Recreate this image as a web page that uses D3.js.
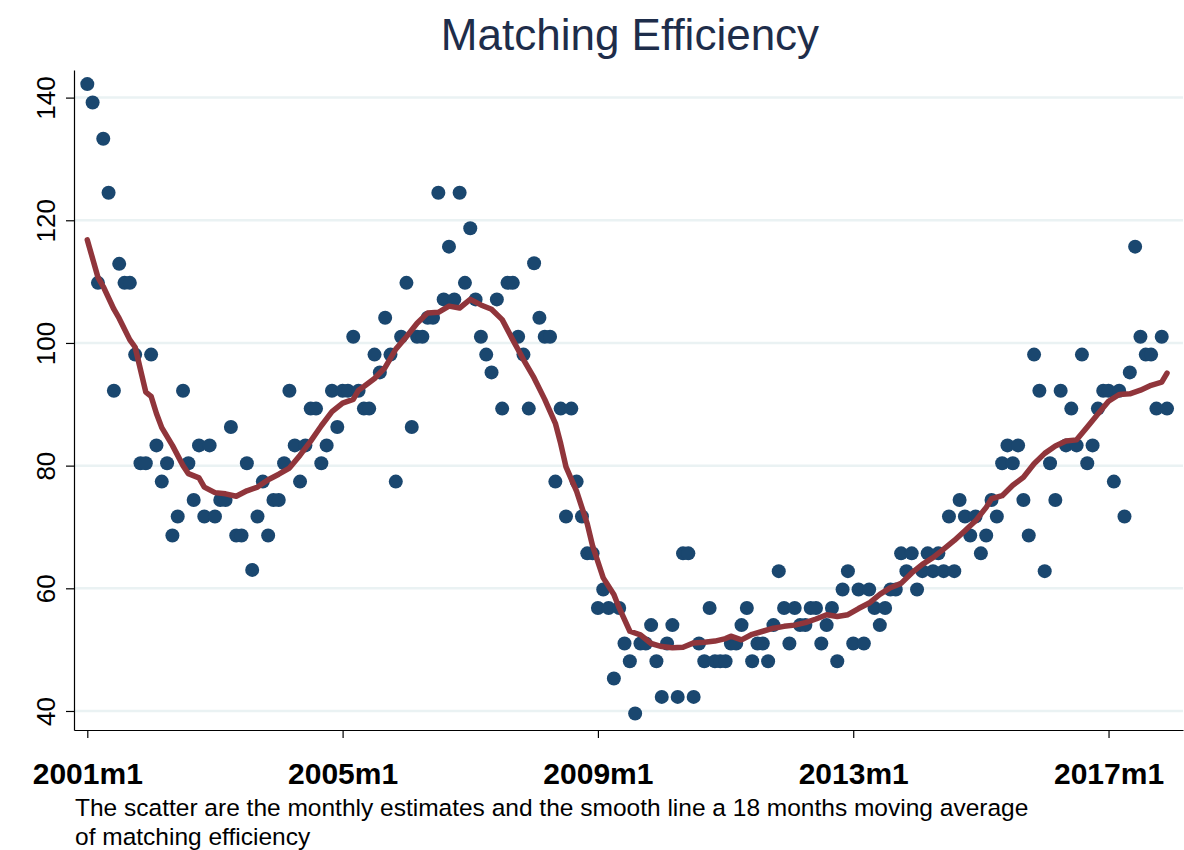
<!DOCTYPE html>
<html>
<head>
<meta charset="utf-8">
<script src="https://cdn.jsdelivr.net/npm/d3@7"></script>
<style>
  body { margin: 0; background: #ffffff; }
  svg { display: block; font-family: "Liberation Sans", Arial, sans-serif; }
</style>
</head>
<body>
<div id="container"></div>
<script>
// Monthly estimates, 2001m1 .. 2017m12 (one row per year)
const scatterValues = [
  142.2, 139.2, 109.8, 133.3, 124.5, 92.2, 112.9, 109.8, 109.8, 98.1, 80.4, 80.4,
  98.1, 83.3, 77.4, 80.4, 68.6, 71.7, 92.2, 80.4, 74.4, 83.3, 71.7, 83.3,
  71.7, 74.4, 74.4, 86.3, 68.6, 68.6, 80.4, 63.0, 71.7, 77.4, 68.6, 74.4,
  74.4, 80.4, 92.2, 83.3, 77.4, 83.3, 89.3, 89.3, 80.4, 83.3, 92.2, 86.3,
  92.2, 92.2, 101.0, 92.2, 89.3, 89.3, 98.1, 95.2, 104.1, 98.1, 77.4, 101.0,
  109.8, 86.3, 101.0, 101.0, 104.1, 104.1, 124.5, 107.1, 115.7, 107.1, 124.5, 109.8,
  118.7, 107.1, 101.0, 98.1, 95.2, 107.1, 89.3, 109.8, 109.8, 101.0, 98.1, 89.3,
  113.0, 104.1, 101.0, 101.0, 77.4, 89.3, 71.7, 89.3, 77.4, 71.7, 65.7, 65.7,
  56.8, 59.8, 56.8, 45.3, 56.8, 51.0, 48.1, 39.6, 51.0, 51.0, 54.0, 48.1,
  42.3, 51.0, 54.0, 42.3, 65.7, 65.7, 42.3, 51.0, 48.1, 56.8, 48.1, 48.1,
  48.1, 51.0, 51.0, 54.0, 56.8, 48.1, 51.0, 51.0, 48.1, 54.0, 62.8, 56.8,
  51.0, 56.8, 54.0, 54.0, 56.8, 56.8, 51.0, 54.0, 56.8, 48.1, 59.8, 62.8,
  51.0, 59.8, 51.0, 59.8, 56.8, 54.0, 56.8, 59.8, 59.8, 65.7, 62.8, 65.7,
  59.8, 62.8, 65.7, 62.8, 65.7, 62.8, 71.7, 62.8, 74.4, 71.7, 68.6, 71.7,
  65.7, 68.6, 74.4, 71.7, 80.4, 83.3, 80.4, 83.3, 74.4, 68.6, 98.1, 92.2,
  62.8, 80.4, 74.4, 92.2, 83.3, 89.3, 83.3, 98.1, 80.4, 83.3, 89.3, 92.2,
  92.2, 77.4, 92.2, 71.7, 95.2, 115.7, 101.0, 98.1, 98.1, 89.3, 101.0, 89.3
];

// 18 months moving average (month index since 2001m1)
const maMonths = [0, 2, 3, 5, 6, 8, 9, 11, 12, 13, 14, 16, 18, 19, 21, 22, 24, 26, 28, 30,
  32, 34, 36, 38, 40, 42, 44, 46, 48, 50, 51, 52, 54, 56, 58, 60, 62, 64, 66, 68,
  70, 72, 74, 76, 78, 80, 82, 84, 86, 88, 89, 90, 92, 94, 95, 97, 99, 100, 102, 104,
  106, 108, 110, 112, 114, 116, 118, 120, 121, 123, 125, 127, 129, 131, 133, 135, 137, 139, 141, 143,
  145, 147, 149, 151, 153, 155, 157, 159, 161, 163, 165, 167, 169, 170, 172, 174, 176, 178, 180, 182,
  184, 186, 188, 190, 192, 194, 196, 198, 200, 202, 203];
const maValues = [116.8, 110.7, 109.2, 105.5, 104.0, 100.5, 99.3, 92.0, 91.3, 88.5, 86.2, 83.3, 80.0, 78.7, 78.0, 76.5, 75.6, 75.4, 75.0, 75.9,
  76.5, 77.7, 78.6, 79.6, 81.7, 84.0, 86.5, 88.8, 90.2, 90.8, 92.3, 92.9, 94.2, 96.0, 99.0, 101.0, 103.2, 104.9, 105.0, 106.0,
  105.7, 107.1, 106.2, 105.5, 103.8, 100.5, 97.3, 94.3, 90.8, 86.9, 83.6, 79.8, 75.8, 70.5, 66.9, 61.7, 59.0, 56.8, 53.0, 52.4,
  51.0, 50.5, 50.3, 50.4, 51.1, 51.2, 51.4, 51.8, 52.2, 51.6, 52.5, 53.0, 53.5, 53.8, 54.0, 54.4, 55.0, 55.7, 55.4, 55.7,
  56.7, 57.6, 59.0, 60.1, 60.8, 62.5, 63.9, 65.0, 66.4, 67.8, 69.4, 71.0, 73.2, 74.6, 75.1, 76.8, 78.1, 80.3, 82.0, 83.2,
  84.0, 84.2, 86.3, 88.4, 90.5, 91.6, 91.7, 92.3, 93.1, 93.6, 95.1];

const xTickMonths = [0, 48, 96, 144, 192];
const xTickLabels = ["2001m1", "2005m1", "2009m1", "2013m1", "2017m1"];
const yTicks = [40, 60, 80, 100, 120, 140];

const width = 1184;
const height = 850;

const svg = d3.select("#container")
  .append("svg")
  .attr("width", width)
  .attr("height", height);

// scales: month index -> x, value -> y
const xScale = d3.scaleLinear().domain([-2.5, 206]).range([74, 1183]);
const yScale = d3.scaleLinear().domain([36.9, 144.5]).range([730, 70]);

// gridlines
svg.append("g")
  .selectAll("line")
  .data(yTicks)
  .enter()
  .append("line")
  .attr("x1", xScale.range()[0])
  .attr("x2", xScale.range()[1])
  .attr("y1", d => yScale(d))
  .attr("y2", d => yScale(d))
  .attr("stroke", "#eaf2f3")
  .attr("stroke-width", 2.5);

// y axis
const yAxis = svg.append("g")
  .attr("transform", "translate(74,0)")
  .call(d3.axisLeft(yScale).tickValues(yTicks).tickSize(8).tickSizeOuter(0));
yAxis.select(".domain").attr("stroke", "#000").attr("stroke-width", 1.2);
yAxis.selectAll(".tick line").attr("stroke", "#000").attr("stroke-width", 1.2);
yAxis.selectAll(".tick text")
  .attr("transform", "rotate(-90)")
  .attr("x", 0)
  .attr("y", -19)
  .attr("dy", 0)
  .attr("text-anchor", "middle")
  .attr("font-size", 26)
  .attr("fill", "#000");

// x axis
const xAxis = svg.append("g")
  .attr("transform", "translate(0,730)")
  .call(d3.axisBottom(xScale)
    .tickValues(xTickMonths)
    .tickFormat((d, i) => xTickLabels[i])
    .tickSize(8)
    .tickSizeOuter(0));
xAxis.select(".domain").attr("stroke", "#000").attr("stroke-width", 1.2);
xAxis.selectAll(".tick line").attr("stroke", "#000").attr("stroke-width", 1.2);
xAxis.selectAll(".tick text")
  .attr("y", 54)
  .attr("dy", 0)
  .attr("font-size", 30)
  .attr("font-weight", "bold")
  .attr("fill", "#000");

// scatter
svg.append("g")
  .selectAll("circle")
  .data(scatterValues)
  .enter()
  .append("circle")
  .attr("cx", (d, i) => xScale(i))
  .attr("cy", d => yScale(d))
  .attr("r", 7)
  .attr("fill", "#1a476f");

// moving average line
const line = d3.line()
  .x(d => xScale(d[0]))
  .y(d => yScale(d[1]));
svg.append("path")
  .datum(maMonths.map((m, i) => [m, maValues[i]]))
  .attr("d", line)
  .attr("fill", "none")
  .attr("stroke", "#90353b")
  .attr("stroke-width", 5.5)
  .attr("stroke-linejoin", "round")
  .attr("stroke-linecap", "round");

// title
svg.append("text")
  .attr("x", 630)
  .attr("y", 50)
  .attr("text-anchor", "middle")
  .attr("font-size", 44)
  .attr("fill", "#1e2d4a")
  .text("Matching Efficiency");

// note
svg.append("text")
  .attr("x", 75)
  .attr("y", 816)
  .attr("font-size", 24.5)
  .attr("fill", "#000")
  .text("The scatter are the monthly estimates and the smooth line a 18 months moving average");
svg.append("text")
  .attr("x", 75)
  .attr("y", 845)
  .attr("font-size", 24.5)
  .attr("fill", "#000")
  .text("of matching efficiency");
</script>
</body>
</html>
